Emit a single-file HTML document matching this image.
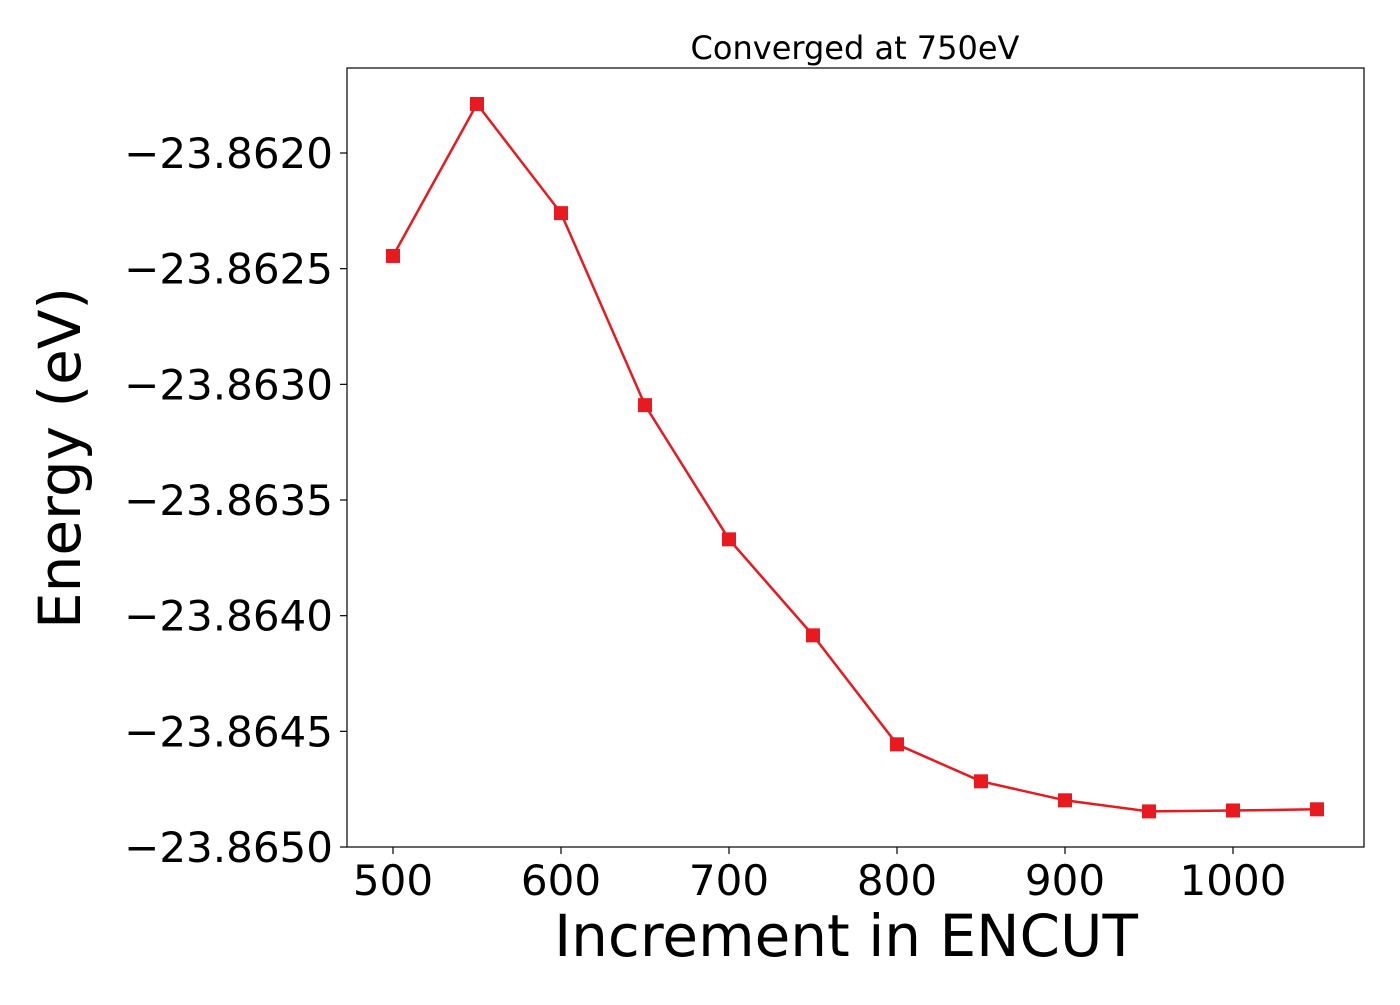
<!DOCTYPE html>
<html><head><meta charset="utf-8"><style>
html,body{margin:0;padding:0;background:#fff;}
svg text{font-family:"DejaVu Sans","Liberation Sans",sans-serif;fill:#000;}
</style></head><body>
<svg id="chart" width="1400" height="1000" xmlns="http://www.w3.org/2000/svg">
<text x="855" y="59" font-size="32" text-anchor="middle">Converged at 750eV</text>
<g id="xticks"></g>
<g id="yticks"></g>
<polyline id="line" fill="none" stroke="#e8191f" stroke-width="2.5"/>
<g id="markers"></g>
<rect x="347" y="68" width="1017" height="779" fill="none" stroke="#000" stroke-width="1.2"/>
<text x="846" y="956" font-size="58" text-anchor="middle">Increment in ENCUT</text>
<text transform="translate(80,458) rotate(-90)" font-size="58" text-anchor="middle">Energy (eV)</text>
</svg>
<script>
const encut = [500,550,600,650,700,750,800,850,900,950,1000,1050];
const energy = [-23.862445,-23.861788,-23.862260,-23.863090,-23.863670,-23.864085,-23.864556,-23.864716,-23.864798,-23.864846,-23.864842,-23.864837];
const xTicks = [500,600,700,800,900,1000];
const yTicks = [-23.8620,-23.8625,-23.8630,-23.8635,-23.8640,-23.8645,-23.8650];
const yTickLabels = ["\u221223.8620","\u221223.8625","\u221223.8630","\u221223.8635","\u221223.8640","\u221223.8645","\u221223.8650"];
const NS="http://www.w3.org/2000/svg";
function sx(v){return 393+(v-500)*1.68;}
function sy(v){return 153+(-23.8620-v)/0.0005*115.67;}
const xg=document.getElementById('xticks'), yg=document.getElementById('yticks');
xTicks.forEach(t=>{
  const l=document.createElementNS(NS,'line');
  
  
  l.setAttribute('x1',sx(t));l.setAttribute('x2',sx(t));l.setAttribute('y1',847);l.setAttribute('y2',854);l.setAttribute('stroke','#000');l.setAttribute('stroke-width','1.2');
  xg.appendChild(l);
  const tx=document.createElementNS(NS,'text');
  
  
  tx.setAttribute('x',sx(t));tx.setAttribute('y',895);tx.setAttribute('font-size','42');tx.setAttribute('text-anchor','middle');
  tx.textContent=t;xg.appendChild(tx);
});
yTicks.forEach((t,i)=>{
  const l=document.createElementNS(NS,'line');
  
  
  l.setAttribute('x1',340);l.setAttribute('x2',347);l.setAttribute('y1',sy(t));l.setAttribute('y2',sy(t));l.setAttribute('stroke','#000');l.setAttribute('stroke-width','1.2');
  yg.appendChild(l);
  const tx=document.createElementNS(NS,'text');
  
  
  tx.setAttribute('x',333);tx.setAttribute('y',sy(t)+15);tx.setAttribute('font-size','42');tx.setAttribute('text-anchor','end');
  tx.textContent=yTickLabels[i];yg.appendChild(tx);
});
document.getElementById('line').setAttribute('points',encut.map((x,i)=>sx(x)+','+sy(energy[i])).join(' '));
const mg=document.getElementById('markers');
encut.forEach((x,i)=>{
  const r=document.createElementNS(NS,'rect');
  
  
  r.setAttribute('x',sx(x)-7);r.setAttribute('y',sy(energy[i])-7);r.setAttribute('width',14);r.setAttribute('height',14);r.setAttribute('fill','#e8191f');
  mg.appendChild(r);
});
</script>
</body></html>
